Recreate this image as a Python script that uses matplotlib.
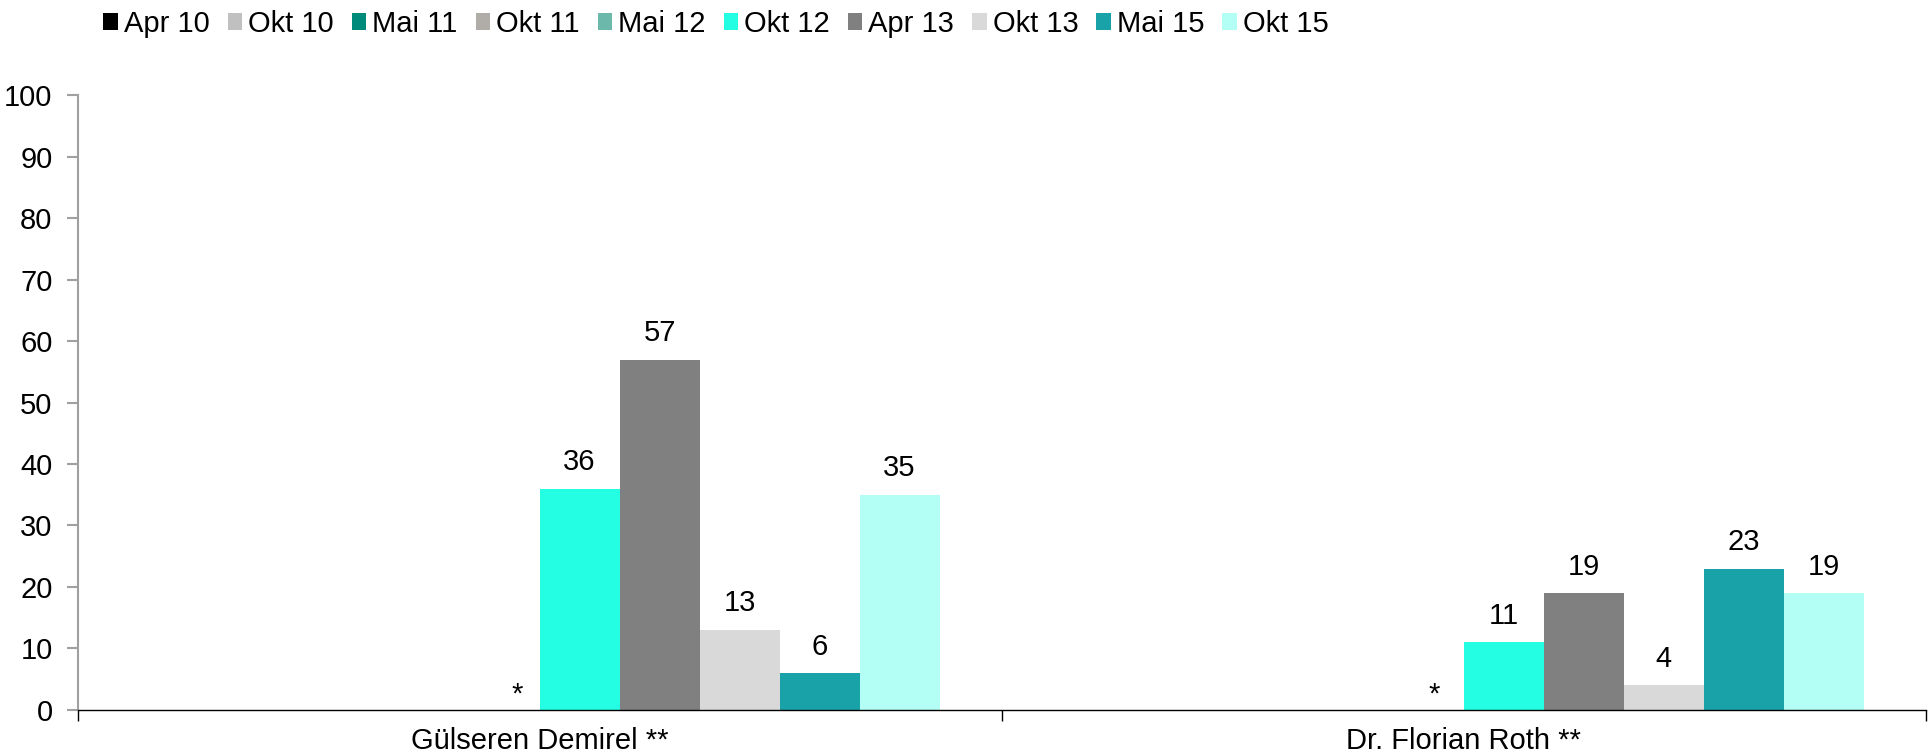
import numpy as np
import matplotlib
matplotlib.use("Agg")
import matplotlib.pyplot as plt

plt.rcParams['font.family'] = ['Liberation Sans', 'DejaVu Sans']

kandidaten = ["Gülseren Demirel **", "Dr. Florian Roth **"]
wellen = ["Apr 10", "Okt 10", "Mai 11", "Okt 11", "Mai 12",
          "Okt 12", "Apr 13", "Okt 13", "Mai 15", "Okt 15"]
# None = nicht abgefragt
werte = {
    "Apr 10": [None, None],
    "Okt 10": [None, None],
    "Mai 11": [None, None],
    "Okt 11": [None, None],
    "Mai 12": [None, None],
    "Okt 12": [36, 11],
    "Apr 13": [57, 19],
    "Okt 13": [13, 4],
    "Mai 15": [6, 23],
    "Okt 15": [35, 19],
}
farben = ["#000000", "#c0c0c0", "#008a7a", "#b0ada8", "#6cb8ab",
          "#24ffe4", "#808080", "#d9d9d9", "#19a3a8", "#b3fff5"]

fs = 21

fig = plt.figure(figsize=(19.29, 7.56), dpi=100)
ax = fig.add_axes([0.0402, 0.061, 0.958, 0.813])

x = np.arange(len(kandidaten))
w = 0.0866
for i, welle in enumerate(wellen):
    vals = [np.nan if v is None else v for v in werte[welle]]
    pos = x + (i - 4.5) * w
    ax.bar(pos, vals, width=w, color=farben[i], label=welle, linewidth=0)
    for p, v in zip(pos, vals):
        if not np.isnan(v):
            ax.annotate(f"{v:.0f}", (p, v), xytext=(0, 9), textcoords="offset points",
                        ha="center", va="bottom", fontsize=fs)

# Sternchen: keine Werte fuer fruehere Wellen
for xi, dx in zip(x, [-0.024, -0.032]):
    ax.text(xi + dx, 0.2, "*", ha="center", va="bottom", fontsize=fs)

ax.set_xlim(-0.5, 1.5)
ax.set_ylim(0, 100)
ax.set_yticks(np.arange(0, 101, 10))
ax.set_xticks(x)
ax.set_xticklabels(kandidaten)
ax.set_xticks([-0.5, 0.5, 1.5], minor=True)
ax.tick_params(axis="x", which="major", length=0, labelsize=fs, pad=12)
ax.tick_params(axis="x", which="minor", length=8, color="#000000", width=1)
ax.tick_params(axis="y", length=8, color="#a0a0a0", width=1.5, labelsize=fs, pad=10)

for s in ["top", "right"]:
    ax.spines[s].set_visible(False)
ax.spines["left"].set_color("#a0a0a0")
ax.spines["left"].set_linewidth(1.5)
ax.spines["bottom"].set_color("#000000")
ax.spines["bottom"].set_linewidth(1)

fig.legend(loc="upper left", bbox_to_anchor=(0.040, 1.022), ncol=10, frameon=False,
           fontsize=fs, handlelength=0.5, handleheight=0.5, handletextpad=0.2,
           columnspacing=0.62)

fig.savefig("out.png", dpi=100)
